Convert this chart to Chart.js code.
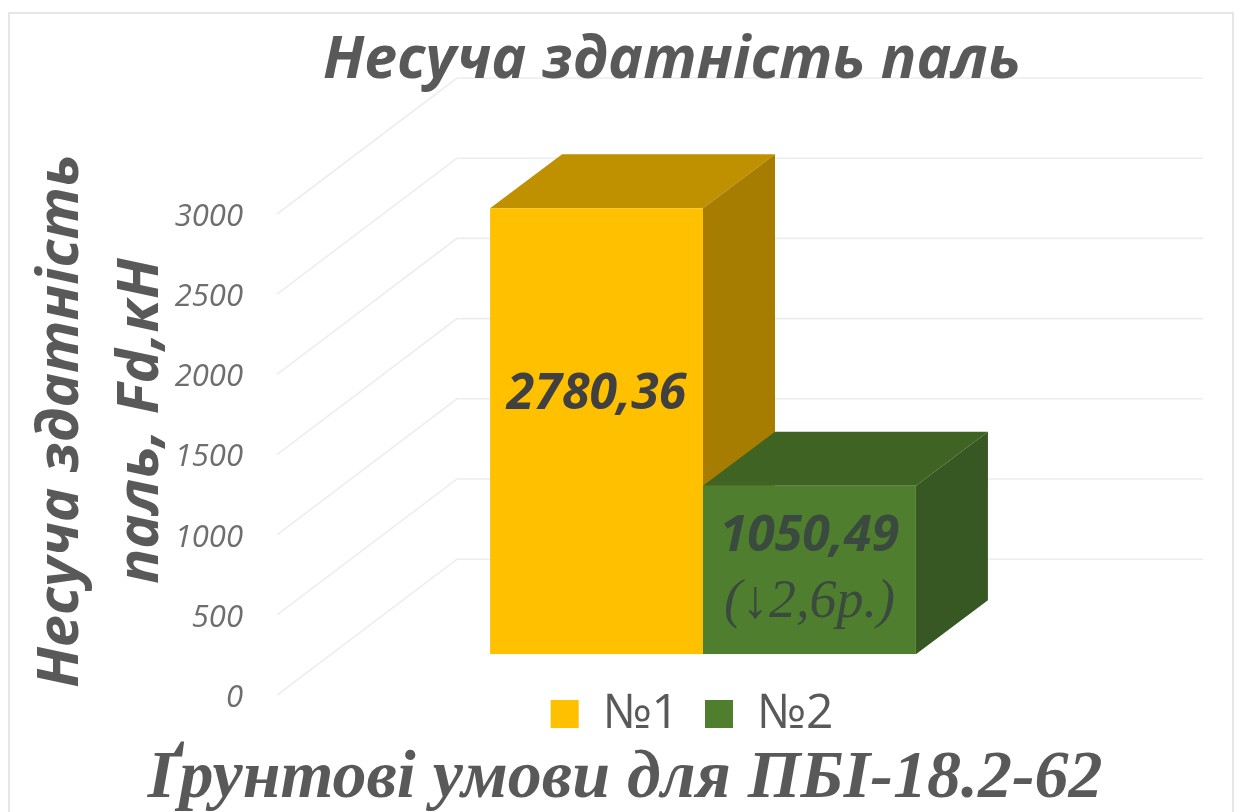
<!DOCTYPE html>
<html>
<head>
<meta charset="utf-8">
<style>html,body{margin:0;padding:0;background:#fff;overflow:hidden}#w{width:1242px;height:812px}</style>
<script src="https://cdn.jsdelivr.net/npm/chart.js@4"></script>
</head>
<body>
<div id="w"><canvas id="c" width="1242" height="812"></canvas></div>
<script>
const categories = ['ПБІ-18.2-62'];
const seriesNames = ['№1', '№2'];
const series1 = [2780.36];
const series2 = [1050.49];
const valueLabels = ['2780,36', '1050,49'];
const noteLabel = '(↓2,6р.)';
const yTickValues = [0, 500, 1000, 1500, 2000, 2500, 3000];
const titleText = 'Несуча здатність паль';
const xTitleText = 'Ґрунтові умови для ПБІ-18.2-62';
const yTitleLines = ['Несуча здатність ', 'паль, Fd,кН '];

const SANS = '"Open Sans", sans-serif';
const SERIF = '"Liberation Serif", serif';
const frontColors = ['#FFC000', '#4F7F2E'];
const topColors = ['#BF9000', '#3F6322'];
const sideColors = ['#A67D00', '#375723'];
const DX = 72, DY = 54;

const threeD = {
  id: 'threeD',
  beforeDraw(chart) {
    const ctx = chart.ctx, y = chart.scales.y;
    ctx.save();
    ctx.strokeStyle = '#e6e6e6'; ctx.lineWidth = 2;
    ctx.beginPath(); ctx.moveTo(9, 830); ctx.lineTo(9, 13); ctx.lineTo(1233, 13); ctx.lineTo(1233, 830); ctx.stroke();
    ctx.strokeStyle = '#ededed'; ctx.lineWidth = 1.6;
    yTickValues.forEach(v => {
      const py = y.getPixelForValue(v);
      ctx.beginPath();
      ctx.moveTo(277, py + 41);
      ctx.lineTo(457, py - 95);
      ctx.lineTo(1203, py - 95);
      ctx.stroke();
    });
    ctx.restore();
  },
  afterLayout(chart) {
    const lg = chart.legend;
    lg.left = 692 - 621; lg.right = lg.left + 1242; lg.top = 664; lg.bottom = 735;
    const t = chart.titleBlock;
    t.left = 102; t.right = 1242;
    const s = chart.boxes.find(b => b.options && b.options.text === xTitleText);
    if (s) { s.left = 8; s.right = 1242; s.top = 746.6; s.bottom = 812.4; }
  },
  beforeDatasetsDraw(chart) {
    const ctx = chart.ctx;
    ctx.save();
    chart.data.datasets.forEach((ds, i) => {
      const b = chart.getDatasetMeta(i).data[0];
      const l = b.x - b.width / 2, r = b.x + b.width / 2, t = b.y, bo = b.base;
      ctx.fillStyle = topColors[i];
      ctx.beginPath(); ctx.moveTo(l, t); ctx.lineTo(l + DX, t - DY); ctx.lineTo(r + DX, t - DY); ctx.lineTo(r, t); ctx.closePath(); ctx.fill();
      ctx.fillStyle = sideColors[i];
      ctx.beginPath(); ctx.moveTo(r, t); ctx.lineTo(r + DX, t - DY); ctx.lineTo(r + DX, bo - DY); ctx.lineTo(r, bo); ctx.closePath(); ctx.fill();
    });
    ctx.restore();
  },
  afterDatasetsDraw(chart) {
    const ctx = chart.ctx;
    ctx.save();
    const m0 = chart.getDatasetMeta(0).data[0], m1 = chart.getDatasetMeta(1).data[0];
    ctx.textAlign = 'center'; ctx.textBaseline = 'middle'; ctx.fillStyle = '#404040';
    ctx.font = 'italic 700 50px ' + SANS;
    ctx.fillText(valueLabels[0], m0.x, 395);
    ctx.fillStyle = '#3b4a3e';
    ctx.fillText(valueLabels[1], m1.x, 537);
    ctx.font = 'italic 400 54px ' + SERIF;
    ctx.fillText(noteLabel, m1.x, 603);
    ctx.restore();
  }
};

new Chart(document.getElementById('c'), {
  type: 'bar',
  plugins: [threeD],
  data: {
    labels: categories,
    datasets: [
      { label: seriesNames[0], data: series1, backgroundColor: frontColors[0], borderWidth: 0 },
      { label: seriesNames[1], data: series2, backgroundColor: frontColors[1], borderWidth: 0 }
    ]
  },
  options: {
    responsive: false,
    animation: false,
    layout: { padding: { left: 21, right: 86, top: 0, bottom: 0 } },
    plugins: {
      tooltip: { enabled: false },
      title: {
        display: true, text: titleText, color: '#595959',
        font: { family: SANS, size: 59, style: 'italic', weight: '700', lineHeight: 1.2 },
        padding: { top: 25.5, bottom: 76.7 }
      },
      subtitle: {
        display: true, text: xTitleText, position: 'bottom', color: '#595959',
        font: { family: SERIF, size: 68, style: 'italic', weight: '700', lineHeight: 0.968 },
        padding: 0
      },
      legend: {
        display: true, position: 'bottom',
        labels: { color: '#595959', boxWidth: 28, boxHeight: 28, padding: 26,
          font: { family: SANS, size: 48, lineHeight: 1 } }
      }
    },
    scales: {
      x: {
        offset: true,
        grid: { display: false }, border: { display: false },
        ticks: { display: false }
      },
      y: {
        min: 0, max: 3000,
        afterFit(s) { s.width = 229; },
        grid: { display: false, drawTicks: false }, border: { display: false },
        afterBuildTicks(s) { s.ticks = yTickValues.map(v => ({ value: v })); },
        ticks: { color: '#6e6e6e', padding: 7, labelOffset: 44,
          callback: v => String(v),
          font: { family: SANS, size: 31, style: 'italic' } },
        title: {
          display: true, text: yTitleLines, color: '#595959', padding: 0,
          font: { family: SANS, size: 58, style: 'italic', weight: '700', lineHeight: 1.38 }
        }
      }
    },
    datasets: { bar: { barPercentage: 1, categoryPercentage: 0.47 } }
  }
});
</script>
</body>
</html>
